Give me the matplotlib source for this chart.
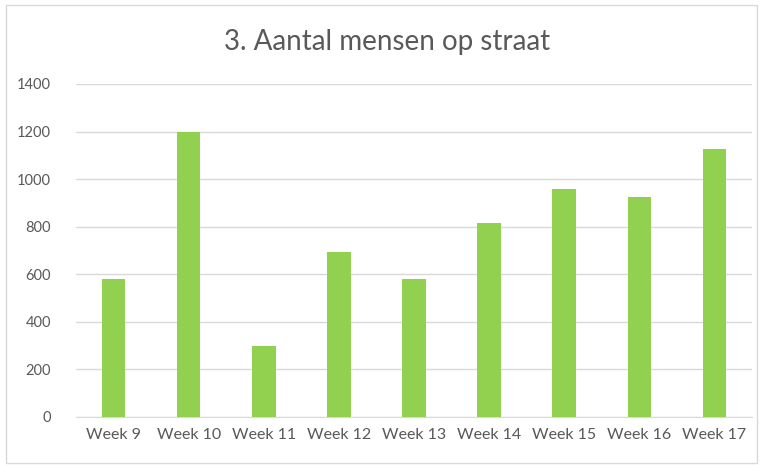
import matplotlib.pyplot as plt
from matplotlib.patches import Rectangle

weeks = ["Week 9", "Week 10", "Week 11", "Week 12", "Week 13",
         "Week 14", "Week 15", "Week 16", "Week 17"]
mensen = [580, 1200, 298, 695, 580, 815, 958, 925, 1127]
y_ticks = [0, 200, 400, 600, 800, 1000, 1200, 1400]

plt.rcParams['font.family'] = ['Lato', 'DejaVu Sans']

fig = plt.figure(figsize=(7.63, 4.65), dpi=100)
ax = fig.add_axes([76 / 763, 1 - 417 / 465, (752 - 76) / 763, (417 - 84) / 465])

x = range(len(weeks))
ax.bar(x, mensen, width=0.313, color="#92D050", zorder=3)

ax.set_xlim(-0.5, len(weeks) - 0.5)
ax.set_ylim(0, 1400)
ax.set_yticks(y_ticks)
ax.set_xticks(list(x))
ax.set_xticklabels(weeks)
ax.yaxis.grid(True, color="#D9D9D9", linewidth=1, zorder=0)
ax.tick_params(axis="both", length=0, colors="#595959")
ax.tick_params(axis="y", pad=18, labelsize=10.5)
ax.tick_params(axis="x", pad=8, labelsize=11.5)
for side in ["top", "right", "left"]:
    ax.spines[side].set_visible(False)
ax.spines["bottom"].set_color("#D9D9D9")

fig.text(0.507, 1 - 42 / 465, "3. Aantal mensen op straat", ha="center", va="center",
         fontsize=20, color="#595959")

fig.patches.append(Rectangle((6 / 763, 2 / 465), 751 / 763, 458 / 465, transform=fig.transFigure,
                             fill=False, edgecolor="#D9D9D9", linewidth=1))

fig.savefig("out.png", dpi=100)
